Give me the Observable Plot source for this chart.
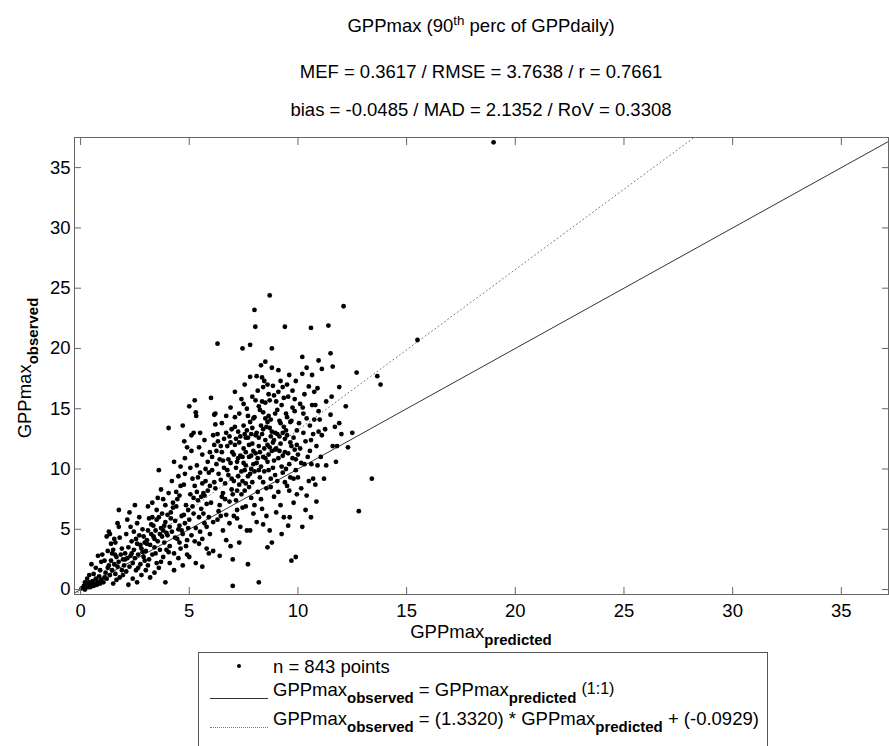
<!DOCTYPE html>
<html><head><meta charset="utf-8">
<script src="https://cdn.jsdelivr.net/npm/d3@7"></script>
<script src="https://cdn.jsdelivr.net/npm/@observablehq/plot@0.6"></script>
<style>
body{margin:0;background:#fff;font-family:"Liberation Sans",Arial,sans-serif;color:#000}
#wrap{position:relative;width:889px;height:746px;overflow:hidden;background:#fff}
#chart{position:absolute;left:0;top:0}
.t{position:absolute;left:0;width:962px;text-align:center;font-size:18.5px;line-height:22px;white-space:nowrap}
sub{font-size:15px;font-weight:bold;vertical-align:-0.45em;line-height:0}
sup{font-size:0.72em;vertical-align:0.55em;line-height:0}
#xlab{position:absolute;left:0;width:962px;text-align:center;top:621px;font-size:18.5px;line-height:22px;white-space:nowrap}
#ylab{position:absolute;left:25px;top:368px;transform:translate(-50%,-50%) rotate(-90deg);font-size:18.5px;line-height:22px;white-space:nowrap}
#legend{position:absolute;left:198px;top:652px;width:568px;height:130px;border:1px solid #555;background:#fff}
.row{position:absolute;left:74px;font-size:18.5px;line-height:20px;white-space:nowrap}
.mk{position:absolute}
.raised{font-size:16px;font-weight:normal;vertical-align:0.12em;line-height:0}
</style></head>
<body><div id="wrap">
<div id="chart"></div>
<div class="t" style="top:15px">GPPmax (90<sup>th</sup> perc of GPPdaily)</div>
<div class="t" style="top:61px">MEF = 0.3617 / RMSE = 3.7638 / r = 0.7661</div>
<div class="t" style="top:99px">bias = -0.0485 / MAD = 2.1352 / RoV = 0.3308</div>
<div id="xlab">GPPmax<sub>predicted</sub></div>
<div id="ylab">GPPmax<sub>observed</sub></div>
<div id="legend">
  <div class="mk" style="left:38px;top:11px;width:4px;height:4px;background:#000;border-radius:2px"></div>
  <div class="row" style="top:4px">n = 843 points</div>
  <div class="mk" style="left:11px;top:45px;width:58px;border-top:1px solid #333"></div>
  <div class="row" style="top:27px">GPPmax<sub>observed</sub> = GPPmax<sub>predicted</sub> <span class="raised">(1:1)</span></div>
  <div class="mk" style="left:11px;top:74px;width:58px;border-top:1px dotted #777"></div>
  <div class="row" style="top:56px">GPPmax<sub>observed</sub> = (1.3320) * GPPmax<sub>predicted</sub> + (-0.0929)</div>
</div>
</div>
<script>
// axis settings
const xDomain = [-0.28, 37.17];
const yDomain = [-0.41, 37.5];
const tickValues = [0, 5, 10, 15, 20, 25, 30, 35];
const fitSlope = 1.3320;
const fitIntercept = -0.0929;

// scatter points: [GPPmax predicted, GPPmax observed]
const points = [
[0.05,0.1],[0.15,0.3],[0.2,0.0],[0.3,0.4],[0.35,0.2],[0.4,0.6],[0.45,0.2],[0.5,0.4],[0.55,0.7],[0.6,0.3],[0.65,0.5],[0.7,0.9],[0.75,0.4],[0.8,0.6],[0.85,1.1],[0.9,0.5],[0.95,0.8],[0.3,0.9],[0.6,1.3],[0.8,2.8],[0.5,2.1],[0.9,1.6],[0.7,1.8],[0.4,1.2],[0.95,2.3],[0.2,0.6],
[1.05,0.6],[1.1,1.0],[1.15,1.4],[1.2,0.9],[1.25,1.8],[1.3,2.0],[1.35,1.2],[1.4,2.4],[1.45,1.6],[1.5,0.5],[1.55,2.1],[1.6,1.3],[1.65,2.7],[1.7,1.9],[1.75,2.3],[1.8,1.0],[1.85,2.9],[1.9,1.6],[1.95,2.5],[1.2,4.4],[1.3,4.8],[1.4,3.8],[1.35,4.6],[1.5,3.3],[1.58,2.9],[1.7,5.5],[1.76,5.2],[1.76,6.6],[1.1,2.4],[1.9,3.4],[1.6,3.9],[1.8,4.3],[1.45,3.0],[1.0,2.9],[1.25,3.2],[1.95,1.2],[1.65,0.8],[1.55,4.2],
[2.0,2.0],[2.05,3.0],[2.1,1.5],[2.15,2.6],[2.2,3.5],[2.25,1.9],[2.3,2.8],[2.35,4.0],[2.4,2.2],[2.45,3.3],[2.5,7.0],[2.5,2.6],[2.55,1.6],[2.6,3.8],[2.65,2.9],[2.7,4.5],[2.75,2.1],[2.8,3.4],[2.85,5.0],[2.9,2.7],[2.95,3.9],[2.2,0.4],[2.4,0.9],[2.6,0.6],[2.3,5.2],[2.1,4.6],[2.7,6.0],[2.8,1.2],[2.45,4.8],[2.9,4.4],[2.15,5.8],[2.6,5.5],[2.35,3.0],[2.75,3.7],[2.05,2.5],[2.95,2.4],[2.55,4.2],[2.85,3.1],[2.65,1.8],[2.25,6.4],
[3.0,3.2],[3.05,4.1],[3.1,6.9],[3.1,4.9],[3.15,2.5],[3.2,3.7],[3.25,5.4],[3.3,6.0],[3.3,2.9],[3.35,4.4],[3.4,3.5],[3.45,4.9],[3.5,5.8],[3.5,2.2],[3.55,4.0],[3.6,6.0],[3.6,9.9],[3.65,3.3],[3.7,8.3],[3.7,5.1],[3.75,4.4],[3.8,7.5],[3.8,2.7],[3.85,3.9],[3.9,5.6],[3.95,4.7],[3.0,1.6],[3.2,1.0],[3.4,1.4],[3.6,1.8],[3.9,0.6],[3.3,7.2],[3.5,6.6],[3.15,5.9],[3.75,6.3],[3.95,3.3],[3.05,3.8],[3.25,4.6],[3.45,3.0],[3.65,4.6],[3.85,5.3],[3.55,7.6],[3.35,5.3],[3.7,2.3],[3.9,7.0],[3.1,2.0],[3.4,4.2],[3.8,4.9],
[4.0,4.5],[4.05,13.4],[4.05,8.0],[4.1,5.2],[4.1,3.6],[4.15,6.4],[4.2,4.8],[4.25,7.2],[4.3,3.0],[4.35,5.7],[4.4,6.9],[4.45,4.2],[4.5,9.4],[4.5,5.0],[4.55,7.8],[4.6,3.4],[4.65,6.1],[4.7,13.6],[4.7,4.6],[4.75,8.7],[4.77,12.3],[4.8,5.5],[4.85,7.0],[4.9,11.8],[4.9,4.1],[4.95,6.6],[4.1,2.2],[4.3,1.6],[4.5,2.6],[4.7,2.0],[4.9,2.9],[4.2,9.0],[4.4,8.1],[4.6,10.2],[4.8,9.6],[4.15,5.9],[4.35,4.3],[4.55,5.3],[4.75,6.2],[4.95,5.1],[4.25,6.8],[4.45,7.5],[4.65,4.9],[4.85,3.6],[4.0,6.2],[4.6,8.6],[4.3,10.6],[4.8,10.9],[4.05,3.1],[4.55,3.9],
[5.0,15.2],[5.0,5.8],[5.05,7.9],[5.1,11.5],[5.1,4.5],[5.15,9.2],[5.2,13.0],[5.2,6.3],[5.25,15.7],[5.25,8.6],[5.3,14.7],[5.32,14.4],[5.3,5.1],[5.35,10.3],[5.4,7.4],[5.45,3.8],[5.5,13.0],[5.5,9.7],[5.55,6.7],[5.6,11.2],[5.6,4.2],[5.65,8.0],[5.7,12.4],[5.7,5.5],[5.75,9.0],[5.8,7.1],[5.85,10.6],[5.9,6.0],[5.9,3.0],[5.95,8.6],[5.0,2.7],[5.3,2.2],[5.6,1.9],[5.8,3.4],[5.05,10.1],[5.15,6.9],[5.35,8.1],[5.45,11.8],[5.55,7.7],[5.65,6.3],[5.75,10.0],[5.85,8.2],[5.95,11.4],[5.2,7.6],[5.4,9.3],[5.6,8.8],[5.8,5.2],[5.1,12.8],[5.5,4.8],[5.9,9.7],[5.25,4.0],[5.7,7.8],[5.45,6.0],[5.95,4.6],
[6.0,15.9],[6.0,7.2],[6.05,9.9],[6.1,5.6],[6.15,14.5],[6.15,12.0],[6.2,14.6],[6.2,13.7],[6.2,8.4],[6.3,20.4],[6.3,12.9],[6.32,12.3],[6.35,6.5],[6.4,10.8],[6.45,9.1],[6.5,11.4],[6.5,7.7],[6.55,4.9],[6.6,10.1],[6.65,8.8],[6.7,14.4],[6.7,13.0],[6.7,6.2],[6.75,11.9],[6.8,9.5],[6.85,7.3],[6.9,15.1],[6.9,12.2],[6.9,10.5],[6.95,8.3],[6.98,11.4],[6.1,3.2],[6.4,2.8],[6.7,4.1],[6.9,3.6],[6.05,11.0],[6.25,10.4],[6.35,9.6],[6.45,11.9],[6.55,8.0],[6.6,12.5],[6.75,9.9],[6.85,5.5],[6.95,13.3],[6.15,8.9],[6.4,7.0],[6.8,10.8],[6.5,13.8],[6.3,5.8],[6.65,7.5],[6.25,11.5],[6.95,9.2],[6.55,10.7],[6.85,12.7],[6.1,12.8],[6.45,6.1],
[7.0,0.3],[7.0,2.5],[7.05,9.0],[7.1,16.4],[7.1,14.3],[7.1,12.0],[7.15,7.4],[7.2,10.6],[7.2,5.9],[7.25,13.1],[7.3,12.2],[7.3,8.7],[7.35,11.1],[7.4,15.8],[7.45,20.0],[7.4,9.8],[7.45,6.8],[7.5,15.4],[7.5,13.6],[7.5,11.7],[7.55,17.0],[7.55,8.2],[7.6,10.3],[7.6,12.6],[7.65,4.9],[7.7,12.6],[7.7,9.4],[7.7,2.1],[7.75,11.0],[7.8,20.3],[7.8,17.65],[7.8,13.9],[7.8,4.9],[7.85,10.0],[7.85,7.6],[7.9,16.0],[7.9,12.1],[7.9,8.9],[7.95,11.5],[7.95,6.3],[7.05,11.2],[7.15,10.1],[7.25,9.4],[7.35,12.7],[7.45,11.0],[7.55,9.9],[7.65,13.2],[7.75,8.5],[7.85,12.9],[7.95,10.4],[7.0,7.9],[7.2,6.6],[7.4,7.9],[7.6,6.9],[7.8,9.6],[7.1,13.5],[7.3,14.6],[7.5,10.5],[7.7,14.4],[7.9,13.4],[7.2,8.2],[7.6,11.4],[7.35,5.2],[7.65,15.0],[7.15,12.5],[7.45,9.0],[7.75,12.0],[7.25,10.9],[7.55,12.9],[7.85,11.1],[7.05,6.1],[7.95,14.2],[7.3,3.9],[7.6,8.8],
[8.0,23.2],[8.04,21.8],[8.05,12.8],[8.1,17.7],[8.1,10.5],[8.15,8.1],[8.2,15.2],[8.2,0.6],[8.2,11.9],[8.25,9.3],[8.3,18.6],[8.3,13.6],[8.35,6.7],[8.4,16.8],[8.4,14.7],[8.4,11.0],[8.4,5.4],[8.45,9.8],[8.5,18.9],[8.5,12.4],[8.55,8.4],[8.6,3.5],[8.6,13.9],[8.6,10.6],[8.65,16.2],[8.7,24.4],[8.7,15.7],[8.7,11.8],[8.7,4.9],[8.75,9.2],[8.8,20.0],[8.8,3.9],[8.8,13.1],[8.85,10.1],[8.9,16.1],[8.9,12.4],[8.9,7.7],[8.95,14.6],[8.0,9.8],[8.05,11.3],[8.1,13.0],[8.15,10.9],[8.2,12.6],[8.25,11.4],[8.3,10.2],[8.35,12.9],[8.4,13.3],[8.45,11.7],[8.5,10.9],[8.55,13.5],[8.6,12.0],[8.65,11.2],[8.7,13.4],[8.75,12.7],[8.8,11.5],[8.85,12.2],[8.9,10.7],[8.95,13.0],[8.0,14.3],[8.25,14.9],[8.5,15.5],[8.75,14.1],[8.15,16.5],[8.45,17.3],[8.35,15.6],[8.65,14.4],[8.85,16.9],[8.0,7.0],[8.3,7.5],[8.55,6.1],[8.75,8.5],[8.95,9.5],[8.1,5.6],[8.4,8.9],[8.65,9.9],[8.2,9.9],[8.95,11.6],[8.5,14.2],[8.05,15.7],[8.35,17.6],[8.6,17.0],[8.8,18.4],
[9.0,6.4],[9.05,12.9],[9.1,18.2],[9.1,16.4],[9.1,10.9],[9.15,14.0],[9.2,7.0],[9.2,12.1],[9.25,15.3],[9.3,16.8],[9.3,9.7],[9.35,13.5],[9.35,6.0],[9.4,21.8],[9.4,11.4],[9.45,14.6],[9.5,8.6],[9.5,12.8],[9.55,16.0],[9.6,17.8],[9.6,10.4],[9.62,6.0],[9.65,13.9],[9.7,2.4],[9.7,11.9],[9.75,15.1],[9.8,9.2],[9.8,12.6],[9.85,14.8],[9.9,17.3],[9.9,2.7],[9.9,10.8],[9.95,13.2],[9.95,7.9],[9.0,11.7],[9.05,9.0],[9.15,11.5],[9.25,10.2],[9.3,13.0],[9.4,12.5],[9.45,10.0],[9.55,11.3],[9.65,12.2],[9.75,10.9],[9.85,11.6],[9.95,12.0],[9.05,14.9],[9.2,13.8],[9.35,15.9],[9.5,14.3],[9.7,14.0],[9.85,15.8],[9.1,8.1],[9.4,8.9],[9.6,8.2],[9.8,7.2],[9.2,17.3],[9.5,17.0],[9.75,16.5],[9.0,15.6],[9.3,11.1],[9.65,9.3],[9.9,9.9],[9.15,12.7],[9.45,13.2],[9.55,5.3],[9.25,4.6],
[10.0,11.2],[10.1,15.4],[10.1,11.7],[10.15,8.4],[10.2,19.3],[10.2,17.9],[10.22,15.1],[10.2,5.2],[10.25,13.0],[10.3,10.4],[10.35,12.3],[10.4,7.8],[10.4,14.2],[10.45,11.0],[10.5,16.85],[10.55,13.6],[10.6,21.7],[10.6,12.4],[10.62,10.4],[10.6,6.0],[10.65,15.3],[10.7,9.2],[10.75,14.1],[10.8,15.3],[10.8,8.7],[10.85,11.9],[10.9,16.7],[10.95,19.0],[10.95,13.1],[10.0,9.3],[10.05,13.8],[10.3,16.2],[10.5,9.0],[10.7,12.9],[10.9,10.3],[10.15,10.5],[10.4,18.4],[10.65,17.8],[10.85,7.3],[10.35,6.6],[10.75,16.4],[10.25,14.6],[10.55,11.5],[10.95,14.8],
[11.0,14.1],[11.1,12.8],[11.1,18.3],[11.2,9.2],[11.3,10.3],[11.4,21.9],[11.5,19.6],[11.55,16.0],[11.6,11.9],[11.6,18.5],[11.7,13.5],[11.8,11.9],[11.9,13.8],[12.0,12.9],[12.1,23.5],[12.2,15.2],[12.5,13.0],[12.7,18.0],[12.8,6.5],[11.3,15.6],[11.9,16.8],[12.3,11.8],[11.5,14.5],[11.05,11.0],[11.25,13.3],[11.75,10.6],
[13.4,9.2],[13.65,17.7],[13.8,17.0],[15.5,20.7],[19.0,37.1]
];
const predicted = points.map(d => d[0]);
const observed = points.map(d => d[1]);

const chart = Plot.plot({
  width: 889,
  height: 746,
  marginLeft: 74,
  marginRight: 1,
  marginTop: 137,
  marginBottom: 152,
  style: {fontFamily: '"Liberation Sans", Arial, sans-serif', fontSize: "18.5px", background: "transparent"},
  x: {domain: xDomain},
  y: {domain: yDomain},
  marks: [
    Plot.line(xDomain, {x: d => d, y: d => d, stroke: "#333", strokeWidth: 1, clip: true}),
    Plot.line(xDomain, {x: d => d, y: d => fitSlope * d + fitIntercept, stroke: "#777", strokeWidth: 1, strokeDasharray: "1,3", clip: true}),
    Plot.dot(predicted, {x: d => d, y: (d, i) => observed[i], r: 2.4, fill: "#000", stroke: null}),
    Plot.frame({stroke: "#666"}),
    Plot.axisX({ticks: tickValues, tickSize: -7, tickPadding: 16, label: null, stroke: "#666", fill: "#000", fontSize: 18.5}),
    Plot.axisX({anchor: "top", ticks: tickValues, tickSize: -7, tickFormat: () => "", label: null, stroke: "#666"}),
    Plot.axisY({ticks: tickValues, tickSize: -7, tickPadding: 11, label: null, stroke: "#666", fill: "#000", fontSize: 18.5}),
    Plot.axisY({anchor: "right", ticks: tickValues, tickSize: -7, tickFormat: () => "", label: null, stroke: "#666"})
  ]
});
document.getElementById("chart").appendChild(chart);
</script>
</body></html>
